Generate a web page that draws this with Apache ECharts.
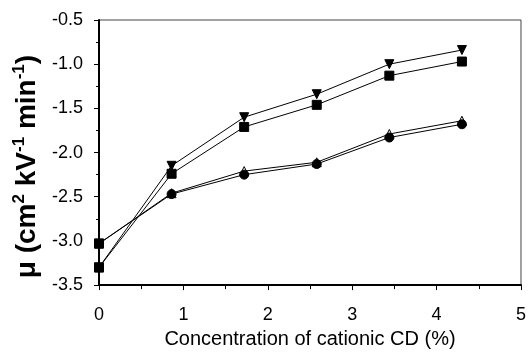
<!DOCTYPE html>
<html>
<head>
<meta charset="utf-8">
<script src="https://cdn.jsdelivr.net/npm/echarts@6/dist/echarts.min.js"></script>
<style>
  html, body { margin: 0; padding: 0; background: #fff; }
  #chart { width: 529px; height: 354px; }
</style>
</head>
<body>
<div id="chart"></div>
<script>
// concentration of cationic CD (%)
const concentrations = [0, 0.86, 1.72, 2.58, 3.44, 4.3];

// mobility values per series
const downTriangleValues = [-3.30, -2.15, -1.60, -1.34, -1.00, -0.84];
const squareValues = [-3.30, -2.24, -1.71, -1.46, -1.13, -0.97];
const openTriangleValues = [-3.03, -2.46, -2.21, -2.11, -1.79, -1.64];
const circleValues = [-3.03, -2.47, -2.25, -2.13, -1.83, -1.68];

const chart = echarts.init(document.getElementById('chart'));

const toPoints = (values) =>
  values.map((v, i) => {
    const item = { value: [concentrations[i], v] };
    if (i === 0) item.symbol = 'rect';
    return item;
  });

const baseSeries = (name, values, symbol, fill, extra) => ({
  name,
  type: 'line',
  data: toPoints(values),
  symbol,
  symbolSize: 9,
  showAllSymbol: true,
  lineStyle: { color: '#000', width: 1 },
  itemStyle: { color: fill, borderColor: '#000', borderWidth: 1 },
  z: 3,
  ...extra,
});

const option = {
  animation: false,
  grid: {
    left: 99,
    right: 7,
    top: 20,
    bottom: 64,
    show: true,
    borderColor: '#444',
    borderWidth: 1,
  },
  xAxis: {
    type: 'value',
    min: 0,
    max: 5,
    interval: 1,
    name: 'Concentration of cationic CD (%)',
    nameLocation: 'middle',
    nameGap: 42,
    nameTextStyle: { fontFamily: 'Liberation Sans', fontSize: 20, color: '#000' },
    axisLine: { lineStyle: { color: '#000', width: 2 } },
    axisTick: { show: true, length: 5, lineStyle: { color: '#000' } },
    minorTick: { show: true, splitNumber: 2, length: 4, lineStyle: { color: '#000' } },
    splitLine: { show: false },
    axisLabel: { fontFamily: 'Liberation Sans', fontSize: 18, color: '#000', margin: 21 },
  },
  yAxis: {
    type: 'value',
    min: -3.5,
    max: -0.5,
    interval: 0.5,
    name: '{n|μ (cm}{s|2}{n| kV}{s|-1}{n| min}{s|-1}{n|)}',
    nameLocation: 'middle',
    nameGap: 54,
    nameRotate: 90,
    nameTextStyle: {
      padding: [0, 28, 0, 0],
      rich: {
        n: { fontFamily: 'Liberation Sans', fontSize: 28, fontWeight: 'bold', color: '#000', lineHeight: 32 },
        s: { fontFamily: 'Liberation Sans', fontSize: 17, fontWeight: 'bold', color: '#000', lineHeight: 32, verticalAlign: 'top' },
      },
    },
    axisLine: { show: true, lineStyle: { color: '#000', width: 2 } },
    axisTick: { show: true, length: 5, lineStyle: { color: '#000' } },
    minorTick: { show: true, splitNumber: 2, length: 3, lineStyle: { color: '#000' } },
    splitLine: { show: false },
    axisLabel: {
      fontFamily: 'Liberation Sans',
      fontSize: 18,
      color: '#000',
      margin: 16,
      formatter: (v) => v.toFixed(1),
    },
  },
  series: [
    baseSeries('down', downTriangleValues, 'triangle', '#000', { symbolRotate: 180 }),
    baseSeries('square', squareValues, 'rect', '#000'),
    baseSeries('open', openTriangleValues, 'triangle', '#fff'),
    baseSeries('circle', circleValues, 'circle', '#000'),
  ],
};

chart.setOption(option);
</script>
</body>
</html>
